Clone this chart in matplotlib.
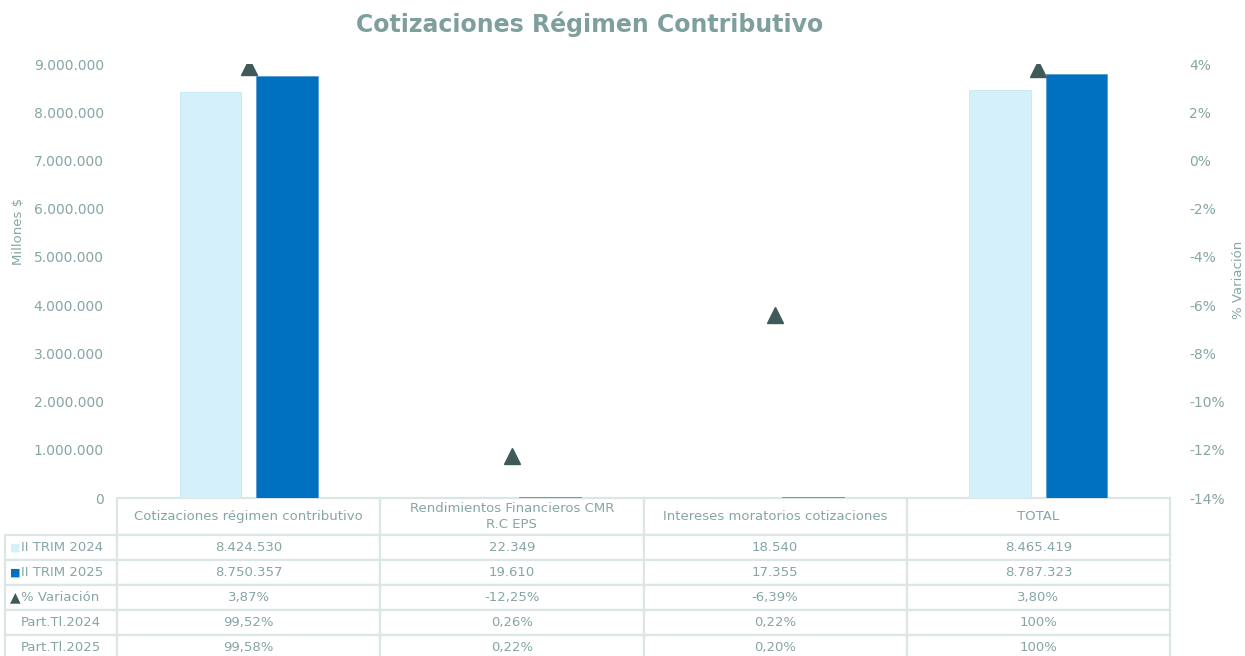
"""
plot.py

Cotizaciones Regimen Contributivo: grouped bars (II TRIM 2024 / 2025) with
% variation markers on a secondary axis and a data table under the chart.
"""
from __future__ import annotations

import matplotlib
matplotlib.use("Agg")
import matplotlib.pyplot as plt
import matplotlib.ticker as ticker

# Data
CATEGORIES = [
    "Cotizaciones régimen contributivo",
    "Rendimientos Financieros CMR\nR.C EPS",
    "Intereses moratorios cotizaciones",
    "TOTAL",
]
TRIM_2024 = [8424530, 22349, 18540, 8465419]
TRIM_2025 = [8750357, 19610, 17355, 8787323]
VARIACION = [3.87, -12.25, -6.39, 3.80]
PART_2024 = ["99,52%", "0,26%", "0,22%", "100%"]
PART_2025 = ["99,58%", "0,22%", "0,20%", "100%"]
ROW_LABELS = ["II TRIM 2024", "II TRIM 2025", "% Variación", "Part.Tl.2024", "Part.Tl.2025"]

# Styles
LIGHT = "#D4F0FA"
DARK = "#0070C0"
MARKER = "#405A5A"
TEXT = "#86A5A5"
TITLE = "#7F9F9F"
GRID = "#DCE6E6"

W, H = 1245, 656


def fmt_thousands(v: float) -> str:
    return f"{v:,.0f}".replace(",", ".")


def fmt_pct(v: float) -> str:
    return f"{v:.2f}%".replace(".", ",")


def main() -> None:
    fig = plt.figure(figsize=(W / 100, H / 100), dpi=100)
    # plot area in pixels: x 117..1170, y 64..498
    ax = fig.add_axes([117 / W, (H - 498) / H, (1170 - 117) / W, (498 - 64) / H])
    ax2 = ax.twinx()

    x = list(range(len(CATEGORIES)))
    bw = 0.235
    off = 0.145
    ax.bar([i - off for i in x], TRIM_2024, width=bw, color=LIGHT,
           edgecolor="#C5E8F5", linewidth=0.6, zorder=2)
    ax.bar([i + off for i in x], TRIM_2025, width=bw, color=DARK,
           edgecolor="#5B9BD5", linewidth=0.6, zorder=2)
    ax2.plot(x, VARIACION, linestyle="none", marker="^", markersize=11,
             color=MARKER, zorder=3)

    ax.set_xlim(-0.5, len(CATEGORIES) - 0.5)
    ax.set_ylim(0, 9000000)
    ax.yaxis.set_major_locator(ticker.MultipleLocator(1000000))
    ax.yaxis.set_major_formatter(ticker.FuncFormatter(lambda v, p: fmt_thousands(v)))
    ax2.set_ylim(-14, 4)
    ax2.yaxis.set_major_locator(ticker.MultipleLocator(2))
    ax2.yaxis.set_major_formatter(ticker.FuncFormatter(lambda v, p: f"{v:.0f}%"))

    for a in (ax, ax2):
        for s in a.spines.values():
            s.set_visible(False)
        a.tick_params(axis="y", length=0, labelsize=10, labelcolor=TEXT)
    ax.tick_params(axis="y", pad=9.5)
    ax2.tick_params(axis="y", pad=14)
    ax.set_xticks([])

    fig.text(18 / W, 1 - 231 / H, "Millones $", rotation=90, ha="center",
             va="center", fontsize=9.5, color=TEXT)
    fig.text(1239 / W, 1 - 280 / H, "% Variación", rotation=90, ha="center",
             va="center", fontsize=9.5, color=TEXT)
    fig.text(590 / W, 1 - 24 / H, "Cotizaciones Régimen Contributivo",
             ha="center", va="center", fontsize=17, fontweight="bold", color=TITLE)

    # Data table
    rows = [
        [fmt_thousands(v) for v in TRIM_2024],
        [fmt_thousands(v) for v in TRIM_2025],
        [fmt_pct(v) for v in VARIACION],
        PART_2024,
        PART_2025,
    ]
    cell_text = [[""] + CATEGORIES] + [[lab] + r for lab, r in zip(ROW_LABELS, rows)]
    tab = ax.table(cellText=cell_text, cellLoc="center",
                   bbox=[(5 - 117) / 1053, -(660 - 498) / 434, (1170 - 5) / 1053, (660 - 498) / 434])
    tab.auto_set_font_size(False)
    tab.set_fontsize(9.5)
    col_w = [112, 263, 263, 263, 263]
    for (r, c), cell in tab.get_celld().items():
        cell.set_width(col_w[c])
        cell.set_height(37 if r == 0 else 25)
        cell.set_edgecolor(GRID)
        cell.set_linewidth(1.6)
        cell.get_text().set_color(TEXT)
        if r == 0 and c == 0:
            cell.visible_edges = ""
        if c == 0 and r > 0:
            cell.get_text().set_ha("left")
            cell.PAD = 0.14
    # legend keys inside the row label cells
    keys = [("■", LIGHT, 8), ("■", DARK, 8), ("▲", MARKER, 10)]
    for i, (glyph, col, size) in enumerate(keys):
        y = 535 + 25 * i + 12.5
        fig.text(15 / W, 1 - y / H, glyph, ha="center", va="center",
                 fontsize=size, color=col)

    fig.savefig("out.png", dpi=100)
    plt.close(fig)


if __name__ == "__main__":
    main()
